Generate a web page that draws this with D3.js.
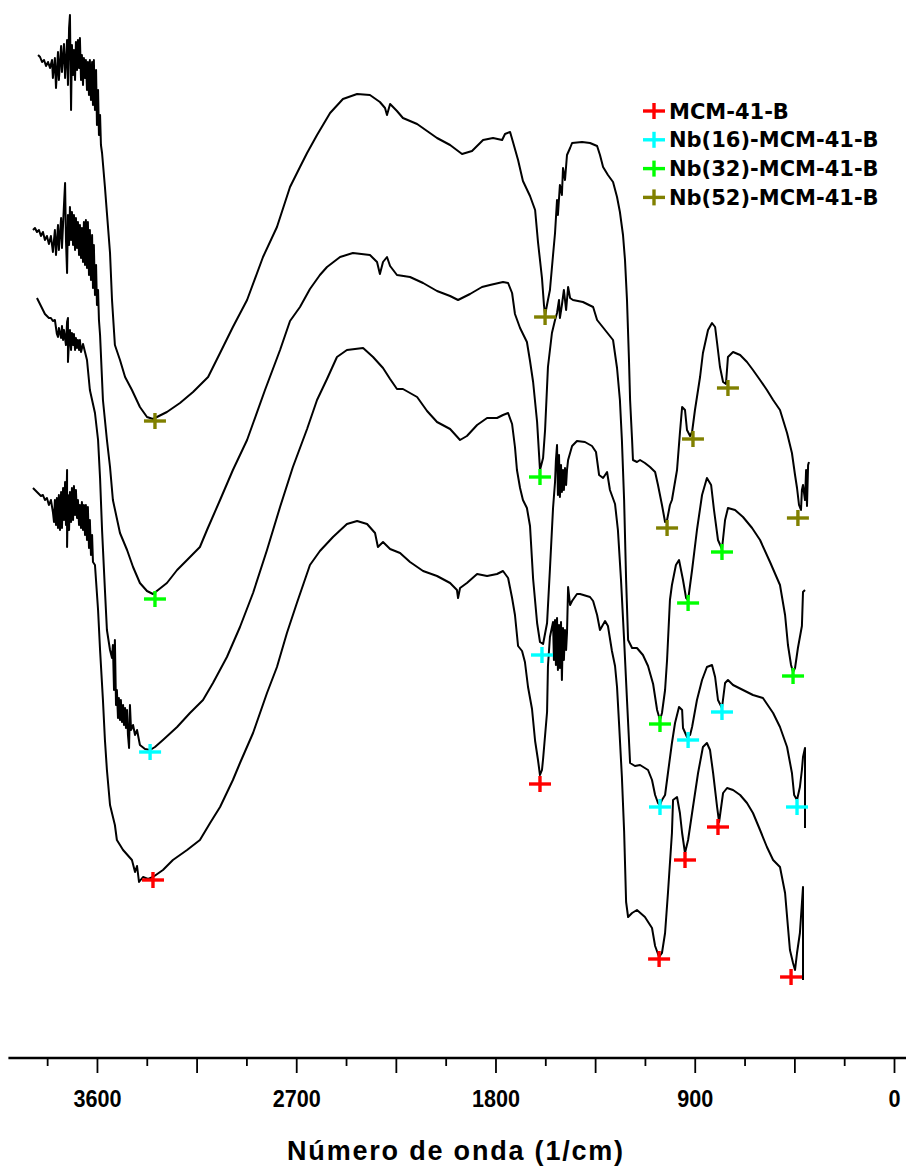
<!DOCTYPE html>
<html>
<head>
<meta charset="utf-8">
<script src="https://cdn.jsdelivr.net/npm/d3@7"></script>
<style>
  html, body { margin: 0; padding: 0; background: #fff; }
  svg { display: block; }
</style>
</head>
<body>
<div id="chart"></div>
<script>
// espectros FTIR, [número de onda (1/cm), transmitância deslocada (u.a.)]
var seriesNames = ["MCM-41-B", "Nb(16)-MCM-41-B", "Nb(32)-MCM-41-B", "Nb(52)-MCM-41-B"];
var seriesColors = ["#ff0000", "#00ffff", "#00ff00", "#808000"];

var nb52 = [
  [3866,98.5],[3857,98.3],[3848,97.8],[3839,98.0],[3830,97.4],[3821,97.8],[3812,97.2],[3803,98.0],
  [3799,96.2],[3790,98.2],[3785,95.2],[3776,98.8],[3772,96.0],[3762,99.4],[3758,96.8],[3749,99.6],
  [3744,96.2],[3735,100.0],[3731,95.5],[3726,101.2],[3722,102.5],[3717,93.0],[3713,99.5],[3708,96.5],
  [3704,99.0],[3699,96.0],[3695,99.8],[3690,97.0],[3686,100.0],[3681,97.2],[3677,100.2],[3672,96.0],
  [3668,98.5],[3663,95.5],[3659,98.2],[3654,96.2],[3650,98.0],[3645,95.0],[3641,97.8],[3636,94.5],
  [3632,98.0],[3627,94.0],[3622,97.8],[3618,93.5],[3614,98.0],[3609,93.0],[3604,97.0],[3600,91.5],
  [3595,95.0],[3591,90.5],[3586,92.5],[3582,89.5],[3577,88.7],[3564,85.3],
  [3555,82.7],[3541,78.7],[3532,74.0],[3519,69.5],[3496,68.0],[3473,66.3],[3442,65.0],[3406,63.3],
  [3374,62.3],[3347,62.1],[3329,62.3],[3284,62.8],[3225,63.7],[3166,64.8],[3098,66.3],[3044,68.7],
  [2986,71.3],[2922,74.0],[2850,78.3],[2787,81.3],[2728,85.3],[2683,87.3],[2651,88.7],[2606,90.5],
  [2547,92.7],[2489,94.1],[2425,94.6],[2367,94.5],[2322,93.8],[2299,93.2],[2290,92.5],[2276,93.6],
  [2267,93.4],[2245,92.9],[2218,92.2],[2154,91.6],[2109,90.9],[2064,90.2],[2005,89.5],[1951,88.6],
  [1906,88.9],[1856,90.0],[1811,90.2],[1770,90.0],[1757,90.6],[1734,90.8],[1721,89.8],[1698,88.0],
  [1676,85.9],[1644,84.4],[1621,83.0],[1608,79.8],[1590,76.2],[1581,73.5],[1576,72.5],[1563,74.0],
  [1554,75.0],[1540,78.5],[1531,80.7],[1522,84.0],[1518,82.5],[1509,85.5],[1500,84.5],[1495,87.2],
  [1486,86.0],[1477,88.5],[1463,89.2],[1454,89.7],[1409,89.8],[1373,89.7],[1341,89.4],[1328,88.5],
  [1314,87.3],[1292,86.5],[1269,85.8],[1251,84.3],[1238,82.8],[1224,80.5],[1215,78.0],[1206,74.0],
  [1197,68.0],[1192,64.0],[1183,60.0],[1179,58.0],[1161,57.8],[1147,58.0],[1125,57.7],[1102,57.3],
  [1079,56.8],[1066,55.5],[1048,53.5],[1034,51.8],[1025,52.0],[1012,53.5],[1003,54.0],[980,57.0],
  [967,60.7],[957,63.3],[944,63.0],[935,61.0],[921,60.4],[912,60.8],[899,63.0],[876,66.3],
  [863,68.7],[840,71.0],[822,71.7],[808,71.3],[799,69.7],[786,67.3],[772,65.8],[759,65.6],
  [750,68.3],[727,68.8],[695,68.5],[664,67.8],[637,67.0],[605,66.0],[574,65.0],[546,64.0],
  [515,63.0],[483,60.7],[461,58.7],[447,56.5],[438,55.2],[429,53.5],[420,53.0],[416,55.0],
  [411,55.5],[402,54.0],[397,57.0],[393,53.4],[388,57.5],[384,57.8]
];

var nb32 = [
  [3889,81.0],[3880,81.2],[3871,80.8],[3862,81.0],[3853,80.4],[3844,80.8],[3835,80.0],[3826,80.4],
  [3817,79.6],[3808,80.4],[3799,78.8],[3790,81.0],[3785,78.5],[3776,81.5],[3772,79.0],[3762,82.2],
  [3758,79.2],[3749,83.5],[3744,85.7],[3740,80.0],[3735,76.7],[3731,82.5],[3726,79.5],[3722,83.3],
  [3717,80.0],[3713,82.8],[3708,79.5],[3704,82.5],[3699,79.0],[3695,82.2],[3690,79.2],[3686,81.8],
  [3681,78.5],[3677,81.5],[3672,78.2],[3668,81.2],[3663,77.8],[3659,81.8],[3654,77.5],[3650,82.0],
  [3645,77.2],[3641,81.8],[3636,76.5],[3632,81.0],[3627,76.0],[3622,80.5],[3618,75.2],[3614,79.5],
  [3609,74.5],[3604,77.5],[3600,73.5],[3595,75.0],[3591,72.0],[3586,70.5],
  [3573,64.0],[3555,60.0],[3541,57.3],[3528,54.0],[3496,50.7],
  [3464,49.0],[3437,47.3],[3406,45.7],[3374,44.9],[3347,44.6],[3324,45.0],[3284,45.7],[3238,47.0],
  [3193,48.0],[3135,49.3],[3103,51.0],[3044,54.0],[2986,57.0],[2922,60.0],[2841,65.0],[2773,69.0],
  [2728,71.9],[2683,73.3],[2638,75.1],[2593,76.5],[2561,77.3],[2502,78.3],[2444,78.7],[2367,78.5],
  [2335,77.8],[2322,76.6],[2308,77.8],[2290,78.3],[2276,77.4],[2245,76.5],[2186,76.3],[2127,75.7],
  [2064,74.9],[2005,74.4],[1969,74.0],[1915,74.6],[1861,75.3],[1825,75.5],[1766,75.8],[1743,75.7],
  [1725,74.7],[1712,72.6],[1689,71.2],[1658,69.8],[1644,67.9],[1630,65.8],[1612,61.8],[1599,57.0],
  [1585,58.2],[1576,61.0],[1563,67.3],[1545,70.7],[1531,72.0],[1522,72.7],[1513,74.0],[1509,72.2],
  [1500,73.5],[1491,75.0],[1481,73.0],[1472,75.3],[1463,74.2],[1450,74.0],[1405,73.8],[1359,73.3],
  [1341,72.0],[1305,71.0],[1269,70.0],[1251,67.2],[1238,64.0],[1229,60.0],[1219,54.0],[1210,46.0],
  [1201,40.0],[1183,39.2],[1161,39.2],[1134,38.5],[1111,37.4],[1088,35.6],[1070,33.0],[1057,32.0],
  [1048,32.7],[1034,35.0],[1025,38.0],[1012,44.0],[1003,45.5],[985,47.5],[971,48.0],[953,46.0],
  [939,44.2],[930,44.0],[912,47.0],[890,51.0],[867,54.5],[845,56.2],[826,55.5],[813,53.0],
  [795,50.0],[777,49.1],[763,52.0],[750,53.2],[718,53.0],[682,52.3],[641,51.2],[605,50.0],
  [560,47.8],[515,45.5],[492,42.5],[479,39.5],[465,37.5],[456,36.8],[447,37.2],[434,39.2],
  [416,41.4],[411,44.8],[402,45.0]
];

var nb16 = [
  [3871,74.2],[3862,73.8],[3853,73.4],[3844,73.0],[3835,72.6],[3826,72.4],[3817,72.2],[3808,72.2],
  [3799,71.9],[3790,72.0],[3781,70.6],[3776,70.3],[3772,71.2],[3762,70.2],[3758,71.4],[3753,70.0],
  [3749,71.0],[3740,69.5],[3735,71.8],[3731,72.2],[3731,67.8],[3726,70.0],[3722,71.0],[3717,69.0],
  [3713,70.7],[3708,69.5],[3704,70.6],[3699,69.0],[3695,70.2],[3690,69.2],[3686,70.0],[3681,69.0],
  [3677,70.0],[3672,68.8],[3663,69.6],[3654,68.8],[3645,68.0],
  [3632,65.0],[3609,62.7],[3595,60.0],[3586,56.2],[3577,51.0],[3564,45.0],[3555,41.0],
  [3541,39.0],[3532,38.2],[3528,39.5],[3523,35.0],[3519,40.0],[3514,33.5],[3510,35.0],[3505,32.2],
  [3501,34.2],[3496,32.0],[3492,34.0],[3487,31.8],[3482,33.5],[3478,31.5],[3473,33.2],[3469,31.2],
  [3464,33.0],[3460,30.5],[3455,29.2],[3451,33.5],[3446,31.0],[3437,31.5],[3428,30.5],[3419,31.0],
  [3406,29.5],[3383,29.1],[3360,29.0],[3338,29.3],
  [3302,30.0],[3238,31.3],[3180,32.7],[3121,34.0],[3076,35.7],[3013,38.3],[2954,41.3],[2895,44.7],
  [2832,49.0],[2773,53.3],[2715,57.3],[2651,61.1],[2606,64.0],[2561,66.1],[2516,68.3],[2471,69.0],
  [2398,69.2],[2353,68.3],[2308,67.2],[2276,66.1],[2245,65.1],[2218,65.1],[2154,64.3],[2109,62.9],
  [2064,61.8],[2005,61.1],[1960,60.0],[1929,60.4],[1883,61.5],[1838,62.2],[1793,62.2],[1766,62.5],
  [1743,62.7],[1725,61.6],[1712,59.3],[1703,57.0],[1689,55.2],[1676,54.0],[1658,53.2],[1644,51.4],
  [1630,46.1],[1612,41.7],[1599,39.8],[1585,39.6],[1567,41.7],[1554,47.1],[1540,53.2],[1531,55.8],
  [1527,58.0],[1522,59.5],[1518,54.5],[1513,58.5],[1509,54.3],[1504,57.5],[1500,54.8],[1495,57.0],
  [1491,55.0],[1486,57.2],[1481,55.5],[1477,57.0],[1472,58.0],[1454,59.4],[1432,59.9],
  [1396,59.8],[1364,59.4],[1346,58.8],[1332,56.5],[1314,56.2],[1296,56.8],[1283,55.0],[1260,53.6],
  [1247,51.0],[1233,46.0],[1219,40.0],[1206,34.0],[1192,27.7],[1170,27.4],[1147,27.5],[1111,27.0],
  [1093,26.0],[1079,24.5],[1066,23.7],[1057,23.5],[1048,24.0],[1034,24.5],[1021,26.7],[1003,29.7],
  [989,31.7],[971,33.3],[957,33.0],[953,31.2],[935,30.3],[921,30.5],[912,31.3],[890,34.0],
  [867,36.0],[845,37.3],[822,37.5],[808,36.3],[795,34.0],[777,33.2],[763,35.7],[750,36.0],
  [727,35.5],[682,35.0],[637,34.5],[592,34.2],[546,32.7],[515,31.3],[483,29.3],[461,26.7],
  [451,24.5],[438,24.0],[425,25.3],[416,27.0],[411,28.3],[402,29.2],[402,21.2]
];

var mcm41 = [
  [3889,55.2],[3880,55.0],[3871,54.8],[3862,54.6],[3853,54.4],[3844,54.5],[3835,54.0],[3826,54.2],
  [3817,53.5],[3808,54.0],[3799,52.8],[3794,51.8],[3790,54.0],[3785,51.5],[3781,54.2],[3776,51.2],
  [3772,54.5],[3767,51.0],[3762,54.8],[3758,51.2],[3753,55.2],[3749,52.0],[3744,55.8],[3740,51.5],
  [3735,57.0],[3735,49.3],[3731,54.5],[3726,51.0],[3722,54.8],[3717,51.8],[3713,55.2],[3708,52.0],
  [3704,55.4],[3699,52.5],[3695,55.0],[3690,52.2],[3686,54.0],[3681,51.5],[3677,53.5],[3672,51.2],
  [3668,53.8],[3663,51.0],[3659,53.5],[3654,50.5],[3650,53.5],[3645,50.0],[3641,53.3],[3636,49.2],
  [3632,52.0],[3627,48.5],[3622,50.5],[3618,47.8],[3609,47.5],
  [3595,43.0],[3586,39.0],[3573,34.0],[3564,30.0],[3555,27.0],[3541,23.5],[3519,21.5],[3510,20.0],
  [3482,19.0],[3442,18.0],[3428,16.8],[3419,17.4],[3410,15.8],[3392,16.3],[3369,16.1],[3347,16.3],
  [3302,17.0],[3257,18.0],[3193,19.0],[3135,20.0],[3089,21.7],[3044,23.3],[2986,26.0],[2954,27.7],
  [2895,30.7],[2832,34.7],[2787,37.3],[2742,40.7],[2697,43.7],[2638,47.5],[2593,48.9],[2534,50.3],
  [2471,51.6],[2425,51.9],[2380,51.6],[2344,50.7],[2331,49.3],[2308,49.8],[2276,49.1],[2231,48.7],
  [2186,47.8],[2127,46.9],[2064,46.4],[2005,45.7],[1974,45.0],[1969,44.2],[1960,45.2],[1929,45.7],
  [1883,46.6],[1838,46.4],[1793,46.6],[1766,46.9],[1743,46.2],[1725,44.2],[1712,42.5],[1698,39.4],
  [1680,38.9],[1667,37.8],[1653,35.3],[1635,33.1],[1621,29.9],[1608,28.0],[1599,26.5],[1590,27.0],
  [1585,28.1],[1567,32.8],[1563,37.4],[1554,40.3],[1540,41.8],[1536,38.0],[1531,42.0],[1527,37.5],
  [1522,42.2],[1518,37.0],[1513,41.5],[1509,37.2],[1504,41.8],[1500,36.0],[1495,41.2],[1491,38.0],
  [1486,41.0],[1481,39.0],[1477,40.7],[1472,45.3],[1463,43.5],[1454,43.9],
  [1432,44.6],[1418,44.6],[1373,44.3],[1359,43.9],[1341,42.5],[1328,41.0],[1305,41.9],[1292,41.4],
  [1274,38.9],[1260,37.4],[1251,35.3],[1242,31.7],[1229,26.3],[1219,20.9],[1210,13.8],[1201,12.3],
  [1183,12.7],[1161,13.0],[1125,12.3],[1093,11.2],[1079,9.4],[1061,8.3],[1048,8.7],[1034,10.7],
  [1021,14.7],[1003,20.7],[998,24.0],[980,24.3],[967,22.7],[957,20.7],[944,18.7],[930,20.0],
  [908,23.3],[885,26.7],[863,29.3],[845,29.7],[831,29.0],[817,26.7],[799,23.3],[790,21.8],
  [772,24.7],[754,25.2],[727,25.0],[695,24.5],[664,23.7],[637,22.7],[605,21.0],[574,19.3],
  [546,18.0],[515,17.3],[492,14.7],[479,11.3],[470,9.0],[456,7.7],[447,7.0],[438,8.7],
  [425,10.7],[411,15.3],[411,6.0]
];

// bandas marcadas com cruz
var peaksMcm41 = [[3347,16.0],[1599,25.6],[1061,8.1],[944,18.0],[795,21.3],[465,6.3]];
var peaksNb16 = [[3360,28.8],[1590,38.5],[1057,23.3],[930,30.0],[777,32.8],[438,23.3]];
var peaksNb32 = [[3338,44.1],[1599,56.3],[1057,31.6],[930,43.7],[777,48.8],[456,36.4]];
var peaksNb52 = [[3338,61.9],[1576,72.3],[1025,51.2],[908,60.1],[750,65.2],[434,52.2]];

var majorTicks = [3600, 3150, 2700, 2250, 1800, 1350, 900, 450, 0];
var minorTicks = [3825, 3375, 2925, 2475, 2025, 1575, 1125, 675, 225];
var tickLabels = [3600, 2700, 1800, 900, 0];

var spectra = [mcm41, nb16, nb32, nb52];
var peaks = [peaksMcm41, peaksNb16, peaksNb32, peaksNb52];

var W = 906, H = 1169, axisY = 1058;

var svg = d3.select("#chart").append("svg")
  .attr("width", W)
  .attr("height", H);

var x = d3.scaleLinear().domain([4000, 0]).range([8.4, 894]);
var y = d3.scaleLinear().domain([0, 104]).range([1040, 0]);

var line = d3.line()
  .x(function(d){ return x(d[0]); })
  .y(function(d){ return y(d[1]); });

// curvas
svg.selectAll("path.spec")
  .data(spectra)
  .enter()
  .append("path")
  .attr("class", "spec")
  .attr("d", line)
  .attr("fill", "none")
  .attr("stroke", "#000")
  .attr("stroke-width", 2)
  .attr("stroke-linejoin", "round");

// cruzes
function cross(g, cx, cy, color){
  g.append("line").attr("x1", cx-11).attr("x2", cx+11).attr("y1", cy).attr("y2", cy)
    .attr("stroke", color).attr("stroke-width", 3.4);
  g.append("line").attr("x1", cx).attr("x2", cx).attr("y1", cy-8).attr("y2", cy+8)
    .attr("stroke", color).attr("stroke-width", 3.4);
}
var mk = svg.append("g");
peaks.forEach(function(p, i){
  p.forEach(function(d){
    cross(mk, x(d[0]), y(d[1]), seriesColors[i]);
  });
});

// eixo x
var axisG = svg.append("g").attr("transform", "translate(0," + axisY + ")");
axisG.append("line")
  .attr("x1", x(4000)).attr("x2", W)
  .attr("stroke", "#000").attr("stroke-width", 2.6);

var major = d3.axisBottom(x).tickValues(majorTicks).tickSize(15)
  .tickFormat(function(d){ return tickLabels.indexOf(d) >= 0 ? d : ""; });
var minor = d3.axisBottom(x).tickValues(minorTicks).tickSize(8).tickFormat("");

var gMaj = axisG.append("g").call(major);
var gMin = axisG.append("g").call(minor);
[gMaj, gMin].forEach(function(g){
  g.select(".domain").remove();
  g.selectAll(".tick line").attr("stroke", "#000").attr("stroke-width", 1.8);
});
gMaj.selectAll(".tick text")
  .attr("y", 49).attr("dy", 0)
  .attr("fill", "#000")
  .style("font-family", "Liberation Sans, Arial, sans-serif")
  .style("font-size", "24px")
  .style("font-weight", "bold")
  .attr("transform", "scale(0.9,1)");

svg.append("text")
  .attr("x", 456).attr("y", 1160)
  .attr("text-anchor", "middle")
  .style("font-family", "Liberation Sans, Arial, sans-serif")
  .style("font-size", "27px")
  .style("font-weight", "bold")
  .style("letter-spacing", "1.8px")
  .text("Número de onda (1/cm)");

// legenda
var leg = svg.append("g");
seriesNames.forEach(function(name, i){
  var cy = 111 + i * 28.8;
  cross(leg, 654, cy, seriesColors[i]);
  leg.append("text")
    .attr("x", 669).attr("y", cy + 7.5)
    .style("font-family", "DejaVu Sans, sans-serif")
    .style("font-size", "21px")
    .style("font-weight", "bold")
    .text(name);
});
</script>
</body>
</html>
